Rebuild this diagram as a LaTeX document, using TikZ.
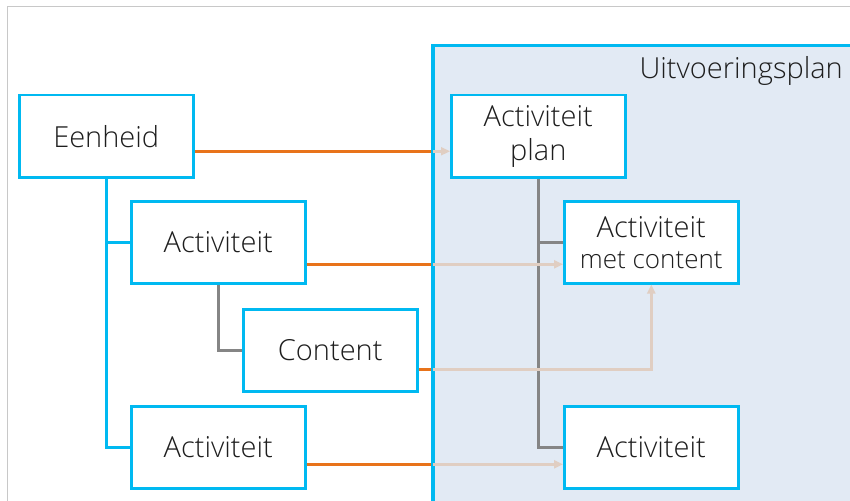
\documentclass[tikz,border=0pt]{standalone}
\usepackage{fontspec}
\setmainfont{Open Sans Light}
\usetikzlibrary{arrows.meta,calc}
\definecolor{cblue}{HTML}{00B9F1}
\definecolor{corange}{HTML}{E8731A}
\definecolor{cbeige}{HTML}{E0CEC2}
\definecolor{cfill}{HTML}{E2EAF4}
\definecolor{cgray}{HTML}{858585}
\definecolor{ctext}{HTML}{1E1E1E}
\definecolor{cframe}{HTML}{C8C8C8}
\begin{document}
\begin{tikzpicture}[x=1pt,y=-1pt,
 box/.style={draw=cblue,line width=2.5pt,fill=white,minimum width=174pt,minimum height=82pt,inner sep=0pt,anchor=north west,font=\fontsize{29}{34}\selectfont,text=ctext,align=center},
 tree/.style={draw=cblue,line width=2.5pt},
 sub/.style={draw=cgray,line width=2.5pt},
 src/.style={draw=corange,line width=2.5pt},
 dst/.style={draw=cbeige,line width=2.5pt,-{Triangle[length=9pt,width=8pt]}},
]
\useasboundingbox (0,0) rectangle (850,500);
\clip (0,0) rectangle (850,500);
\fill[white] (0,0) rectangle (850,500);
\draw[cframe,line width=1pt] (7,510) -- (7,7) -- (860,7);
\node[draw=cblue,fill=cfill,line width=2.5pt,anchor=north west,minimum width=440pt,minimum height=470pt,inner sep=0pt] (plan) at (432,45) {};
\node[anchor=base east,inner sep=0pt,font=\fontsize{29}{34}\selectfont,text=ctext] (plantitle) at (843,79) {Uitvoeringsplan};

\node[box] (eenheid) at (18,94) {Eenheid};
\node[box] (act1) at (130,200) {Activiteit};
\node[box] (content) at (242,308) {Content};
\node[box] (act2) at (130,405) {Activiteit};
\node[box] (aplan) at (450,94) {Activiteit\\plan};
\node[box] (amc) at (563,200) {Activiteit\\[-3pt]{\fontsize{26}{30}\selectfont met content}};
\node[box] (act3) at (563,405) {Activiteit};

% trees
\draw[tree] (eenheid.south) -- (eenheid.south |- act2.west) -- (act2.west);
\draw[tree] (eenheid.south |- act1.west) -- (act1.west);
\draw[sub] (act1.south) |- (content.west);
\draw[sub] (aplan.south) |- (act3.west);
\draw[sub] (aplan.south |- amc.west) -- (amc.west);

% mappings
\coordinate (o1) at ($(eenheid.east)+(0,15)$);
\coordinate (m1) at (o1 -| plan.west);
\draw[src] (o1) -- (m1);
\draw[dst] (m1) -- (o1 -| aplan.west);

\coordinate (o2) at ($(act1.east)+(0,22)$);
\coordinate (m2) at (o2 -| plan.west);
\draw[src] (o2) -- (m2);
\draw[dst] (m2) -- (o2 -| amc.west);

\coordinate (o3) at ($(content.east)+(0,19)$);
\coordinate (m3) at (o3 -| plan.west);
\draw[src] (o3) -- (m3);
\draw[dst] (m3) -| (amc.south);

\coordinate (o4) at ($(act2.east)+(0,17)$);
\coordinate (m4) at (o4 -| plan.west);
\draw[src] (o4) -- (m4);
\draw[dst] (m4) -- (o4 -| act3.west);

% redraw container border over beige starts
\draw[cblue,line width=2.5pt] (plan.south west) -- (plan.north west) -- (plan.north east);
\end{tikzpicture}
\end{document}
